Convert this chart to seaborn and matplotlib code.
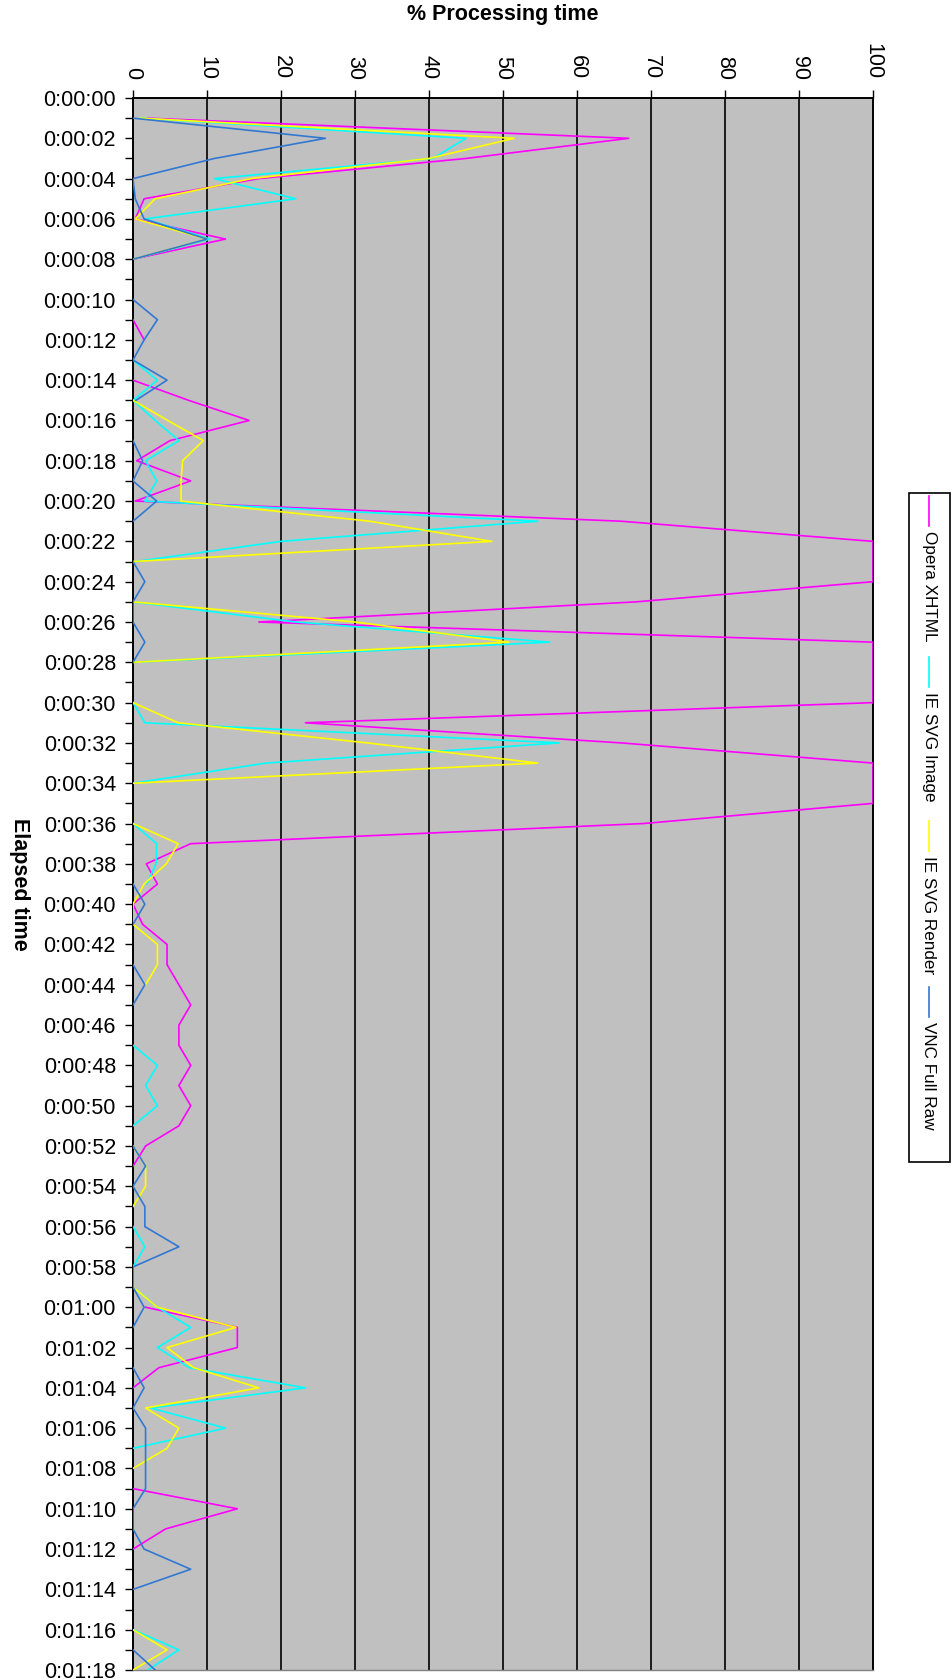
import numpy as np
import pandas as pd
import matplotlib
matplotlib.use("Agg")
import matplotlib.pyplot as plt
from matplotlib.lines import Line2D
from matplotlib.patches import Rectangle
import seaborn as sns

nan = np.nan

# Elapsed time in seconds (one sample per second)
seconds = list(range(0, 79))

# % processing time per sample; nan = no sample recorded
opera_xhtml = [
    nan, 2, 67, 45, 17, 1.5, 0.3, 12.5, 0, nan,
    nan, 0, 1.5, nan, 0, 7.5, 15.7, 5, 0.5, 7.8,
    0.3, 66, 100, 100, 100, 68, 17, 100, 100, 100,
    100, 23.3, 66, 100, 100, 100, 69, 7.8, 1.8, 3.3,
    0, 1.3, 4.6, 4.6, 6.2, 7.8, 6.2, 6.2, 7.8, 6.2,
    7.8, 6.2, 1.7, 0, nan, nan, nan, nan, nan, nan,
    1.7, 14.1, 14.1, 3.5, 0, nan, nan, nan, nan, 0,
    14.1, 4.4, 0, nan, nan, nan, nan, nan, nan,
]
ie_svg_image = [
    nan, 1, 45, 40.5, 11, 22, 1.6, 10.4, 0, nan,
    nan, nan, nan, 0, 3.3, 0, 3, 6.2, 1.7, 3.2,
    1.6, 54.7, 20, 0.3, nan, 0, 22, 56.3, 0, nan,
    0, 1.6, 57.6, 18, 0, nan, 0, 3.2, 3.1, 1.9,
    nan, nan, nan, nan, nan, nan, nan, 0, 3.3, 1.7,
    3.3, 0, nan, nan, nan, nan, 0, 1.6, 0, 0,
    3.3, 7.8, 3.3, 7.6, 23.3, 2.4, 12.5, 0, nan, nan,
    nan, nan, nan, nan, nan, nan, 0, 6.2, 2,
]
ie_svg_render = [
    nan, 1, 51.5, 40, 16, 3, 0.3, 10, 0, nan,
    nan, nan, nan, nan, nan, 0, 4.7, 9.5, 6.7, 6.5,
    6.5, 32, 48.5, 0, nan, 0, 30, 50.8, 0, nan,
    0, 6.1, 31.7, 54.7, 0, nan, 0, 6.1, 4.5, 1.5,
    0, 0, 3.3, 3.3, 1.7, nan, nan, nan, nan, nan,
    nan, nan, 0, 1.7, 1.7, 0, nan, nan, nan, 0,
    3.3, 13.9, 4.6, 8.2, 17, 1.7, 6.2, 4.6, 0, nan,
    nan, nan, nan, nan, nan, nan, 0, 4.6, 0,
]
vnc_full_raw = [
    nan, 0, 26, 11, 0, 0.3, 1.5, 10, 0, nan,
    0, 3.3, 1.5, 0, 4.6, 0.4, nan, 0, 1.3, 0,
    3.2, 0, nan, 0, 1.6, 0, 0, 1.6, 0, nan,
    nan, nan, nan, nan, nan, nan, nan, nan, nan, 0,
    1.6, 0, nan, 0, 1.6, 0, nan, nan, nan, nan,
    nan, nan, 0, 1.7, 0, 1.6, 1.6, 6.2, 0, 0,
    1.5, 0, nan, 0, 1.5, 0, 1.7, 1.7, 1.7, 1.7,
    0, 0, 1.5, 7.8, 0, nan, nan, 0, 3,
]

series_names = ["Opera XHTML", "IE SVG Image", "IE SVG Render", "VNC Full Raw"]
series_values = [opera_xhtml, ie_svg_image, ie_svg_render, vnc_full_raw]
series_colors = ["#FF00FF", "#00FFFF", "#FFFF00", "#3278D2"]

pct_ticks = list(range(0, 101, 10))

# Long-form table; every unbroken run of samples becomes its own unit so that
# missing samples leave gaps in the lines.
rows = []
for name, vals in zip(series_names, series_values):
    seg = 0
    for t, v in zip(seconds, vals):
        if np.isnan(v):
            seg += 1
            continue
        rows.append({"series": name, "seconds": t, "pct": v, "segment": seg})
df = pd.DataFrame(rows)


def fmt_elapsed(t):
    return f"{t // 3600}:{(t % 3600) // 60:02d}:{t % 60:02d}"


elapsed_labels = [fmt_elapsed(t) if t % 2 == 0 else "" for t in seconds]

plt.rcParams["font.family"] = ["Liberation Sans", "DejaVu Sans"]

W, H = 952, 1679
fig = plt.figure(figsize=(W / 100, H / 100), dpi=100)
ax_left, ax_right, ax_top, ax_bottom = 133, 873, 98, 1670
ax = fig.add_axes([ax_left / W, 1 - ax_bottom / H,
                   (ax_right - ax_left) / W, (ax_bottom - ax_top) / H])
ax.set_facecolor("#C0C0C0")

sns.lineplot(
    data=df, x="pct", y="seconds", hue="series", units="segment",
    estimator=None, orient="y", hue_order=series_names,
    palette=dict(zip(series_names, series_colors)),
    linewidth=1.2, legend=False, ax=ax, zorder=3,
)

ax.set_xlim(0, 100)
ax.set_ylim(seconds[-1], seconds[0])

# Value axis along the top
ax.xaxis.tick_top()
ax.xaxis.set_label_position("top")
ax.set_xticks(pct_ticks)
ax.set_xticklabels([str(v) for v in pct_ticks], rotation=-90)
ax.set_xlabel("% Processing time", fontsize=15.5, fontweight="bold", labelpad=17)

# Time axis down the left side
ax.set_yticks(seconds)
ax.set_yticklabels(elapsed_labels)
ax.set_ylabel("Elapsed time", fontsize=15.5, fontweight="bold", rotation=-90,
              va="center", ha="center")
ax.yaxis.set_label_coords((20 - ax_left) / (ax_right - ax_left), 0.5)

ax.tick_params(axis="x", which="both", top=True, bottom=False, direction="out",
               length=5.8, width=1.0, pad=7.5, labelsize=15.5, colors="black")
ax.tick_params(axis="y", which="both", left=True, direction="out",
               length=5.8, width=1.0, pad=6.5, labelsize=15.5, colors="black")

ax.grid(False)
for v in pct_ticks[1:-1]:
    ax.axvline(v, color="black", linewidth=1.2, zorder=1)

for side in ("top", "left", "right"):
    ax.spines[side].set_color("black")
    ax.spines[side].set_linewidth(1.4)
ax.spines["bottom"].set_color("#808080")
ax.spines["bottom"].set_linewidth(1.0)

# Legend box on the right, entries reading downward
def fx(px):
    return px / W


def fy(py):
    return 1 - py / H


fig.patches.append(Rectangle((fx(909), fy(1162)), fx(950) - fx(909),
                             fy(493) - fy(1162), transform=fig.transFigure,
                             facecolor="white", edgecolor="black",
                             linewidth=1.2, zorder=0))
legend_starts = [496, 657, 821, 987]
for name, color, y0 in zip(series_names, series_colors, legend_starts):
    fig.lines.append(Line2D([fx(929), fx(929)], [fy(y0), fy(y0 + 30)],
                            transform=fig.transFigure, color=color,
                            linewidth=1.2))
    fig.text(fx(929), fy(y0 + 35), name, rotation=-90, ha="center", va="top",
             fontsize=12.3, color="black")

fig.savefig("out.png", dpi=100, facecolor="white")
